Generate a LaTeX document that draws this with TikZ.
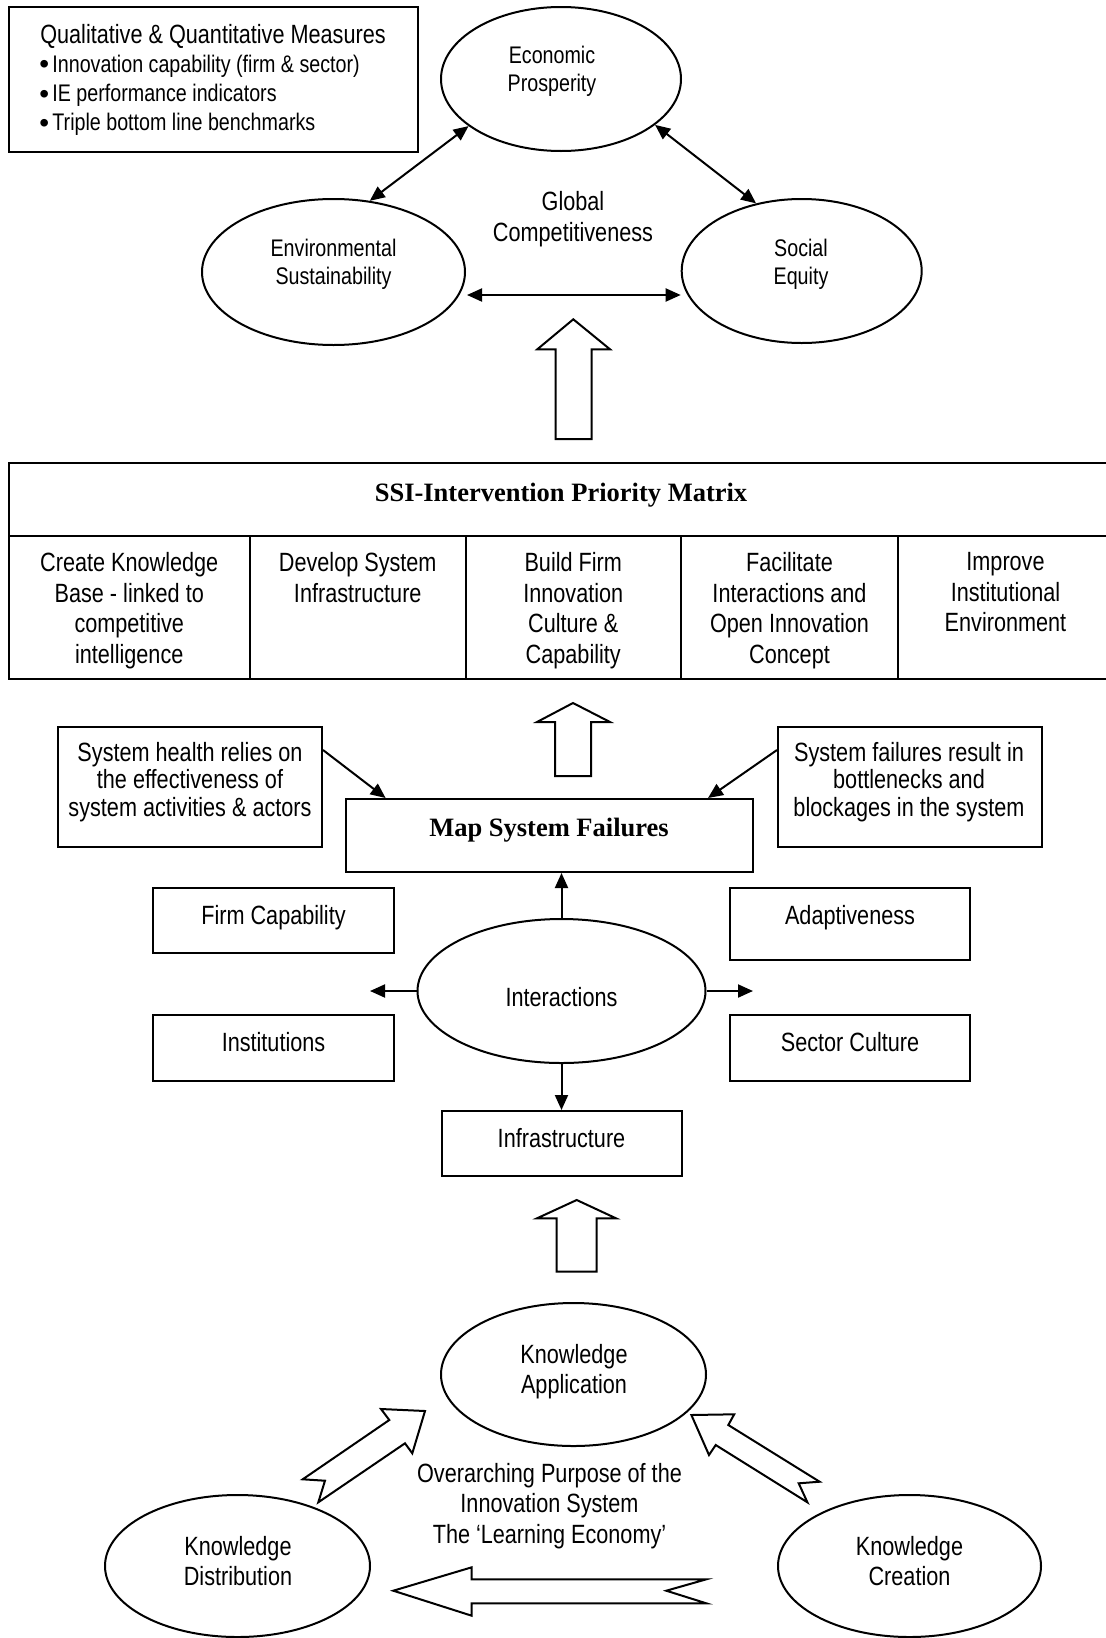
\documentclass[tikz,border=0pt]{standalone}
\usepackage{fontspec}
\setmainfont{Liberation Sans}[FakeStretch=0.82]
\newfontfamily\titlefont{Liberation Serif}
\newfontfamily\plainsans{Liberation Sans}
\newcommand\listdot{{\plainsans\fontsize{14}{0}\selectfont\raisebox{-0.9pt}{•}}\hspace{1.6pt}}
\usetikzlibrary{shapes.geometric,arrows.meta,calc,fit}

\tikzset{
  frame/.style={draw, line width=1pt, rectangle, inner sep=0pt},
  oval/.style={draw, line width=1pt, ellipse, inner sep=0pt},
  lbl/.style={inner sep=0pt, align=center, font=\fontsize{13.2}{14.7}\selectfont},
  lblsmall/.style={inner sep=0pt, align=center, font=\fontsize{12}{14.2}\selectfont},
  heading/.style={inner sep=0pt, font=\titlefont\bfseries\fontsize{13.25}{15}\selectfont},
  conn/.style={line width=1pt, ->},
  biconn/.style={line width=1pt, <->},
  blockarrow/.style={draw, line width=1pt, fill=white, line join=miter},
}

\begin{document}
\begin{tikzpicture}[x=0.5pt, y=-0.5pt, >={Triangle[length=7.5pt,width=6.5pt]}]
\useasboundingbox (0,0) rectangle (1106,1638);
\clip (0,0) rectangle (1106,1638);

% ---------- measures panel ----------
\node[frame, fit={(9,7)(418,152)}] (measures) {};
\node[lbl] (measures-title) at (213,36.5) {Qualitative \& Quantitative Measures};
\node[lbl, align=left, anchor=west, font=\fontsize{12}{14.6}\selectfont] (measures-list) at (39,95)
  {\listdot Innovation capability (firm \& sector)\\
   \listdot IE performance indicators\\
   \listdot Triple bottom line benchmarks};

% ---------- triple bottom line ----------
\node[oval, minimum width=120pt, minimum height=72pt] (econ) at (561,79) {};
\node[lblsmall] (econ-t) at (552,71) {Economic\\Prosperity};
\node[oval, minimum width=131.5pt, minimum height=73pt] (env) at (333.5,272) {};
\node[lblsmall] (env-t) at (333.5,264.5) {Environmental\\Sustainability};
\node[oval, minimum width=120pt, minimum height=72pt] (social) at (801.7,271) {};
\node[lblsmall] (social-t) at (801,264.5) {Social\\Equity};
\node[lbl, font=\fontsize{13.2}{15.5}\selectfont] (global) at (573,219.5) {Global\\Competitiveness};

\draw[biconn] (env.63) -- (econ.207);
\draw[biconn] (econ.334) -- (social.124);
\draw[biconn] ($(env.east)+(1,23)$) -- ($(social.west)+(0,24)$);

% block arrow: matrix -> outcomes
\draw[blockarrow] (573.3,319.3) -- (610,349.3) -- (591.7,349.3) -- (591.7,439)
  -- (555.7,439) -- (555.7,349.3) -- (537.3,349.3) -- cycle;

% ---------- intervention priority matrix ----------
\node[frame, fit={(8.5,463)(1113,679)}] (ssi) {};
\draw[line width=1pt] (8.5,536) -- (1113,536);
\foreach \xx in {250,465.5,681,898} \draw[line width=1pt] (\xx,536) -- (\xx,679);
\node[heading] (ssi-title) at (561,495) {SSI-Intervention Priority Matrix};
\begin{scope}[every node/.style={lbl, anchor=north, font=\fontsize{13.2}{15.3}\selectfont}]
  \node (col1) at (129.25,552) {Create Knowledge\\Base - linked to\\competitive\\intelligence};
  \node (col2) at (357.75,552) {Develop System\\Infrastructure};
  \node (col3) at (573.25,552) {Build Firm\\Innovation\\Culture \&\\Capability};
  \node (col4) at (789.5,552) {Facilitate\\Interactions and\\Open Innovation\\Concept};
  \node (col5) at (1005.5,552) {Improve\\Institutional\\Environment};
\end{scope}

% block arrow: failures -> matrix
\draw[blockarrow] (573,703) -- (610,722) -- (591,722) -- (591,776)
  -- (555,776) -- (555,722) -- (537,722) -- cycle;

% ---------- system failures ----------
\node[frame, fit={(58,727)(322,847)}] (lnote) {};
\node[lbl, font=\fontsize{13.2}{13.75}\selectfont] (lnote-t) at (190,782)
  {System health relies on\\the effectiveness of\\system activities \& actors};
\node[frame, fit={(778,727)(1042,847)}] (rnote) {};
\node[lbl, font=\fontsize{13.2}{13.75}\selectfont] (rnote-t) at (909,782)
  {System failures result in\\bottlenecks and\\blockages in the system};
\node[frame, fit={(345.6,799)(753,872)}] (map) {};
\node[heading] (map-t) at (549,830) {Map System Failures};

\draw[conn] ($(lnote.north east)+(0,24)$) -- ($(map.north west)+(41,0)$);
\draw[conn] ($(rnote.north west)+(0,24)$) -- ($(map.north east)+(-46,0)$);

\node[frame, fit={(153,888)(394,953)}] (firm) {};
\node[lbl] (firm-t) at (273.5,918) {Firm Capability};
\node[frame, fit={(730,888)(970,960)}] (adapt) {};
\node[lbl] (adapt-t) at (850,918) {Adaptiveness};
\node[frame, fit={(153,1015)(394,1081)}] (inst) {};
\node[lbl] (inst-t) at (273.5,1042) {Institutions};
\node[frame, fit={(730,1015)(970,1081)}] (culture) {};
\node[lbl] (culture-t) at (850,1042) {Sector Culture};
\node[frame, fit={(441.6,1111)(681.5,1176)}] (infra) {};
\node[lbl] (infra-t) at (561.5,1138) {Infrastructure};

\node[oval, minimum width=144pt, minimum height=72pt] (inter) at (561.5,991) {};
\node[lbl] (inter-t) at (561.5,997) {Interactions};
\coordinate (inter-l) at (370,991);
\coordinate (inter-r) at (753,991);

\draw[conn] (inter.north) -- (inter.north |- map.south);
\draw[conn] (inter.south) -- (inter.south |- infra.north);
\draw[conn] (inter.west) -- (inter-l);
\draw[conn] (inter.east) -- (inter-r);

% block arrow: learning economy -> system
\draw[blockarrow] (576.7,1200) -- (616,1218.3) -- (596.7,1218.3) -- (596.7,1271.7)
  -- (556.7,1271.7) -- (556.7,1218.3) -- (537,1218.3) -- cycle;

% ---------- learning economy ----------
\node[oval, minimum width=132.5pt, minimum height=71.5pt] (kapp) at (573.5,1374.5) {};
\node[lbl] (kapp-t) at (574,1371.5) {Knowledge\\Application};
\node[oval, minimum width=132.5pt, minimum height=71pt] (kdist) at (237.5,1566) {};
\node[lbl] (kdist-t) at (238,1561) {Knowledge\\Distribution};
\node[oval, minimum width=131.5pt, minimum height=71pt] (kcre) at (909.5,1566) {};
\node[lbl] (kcre-t) at (909.5,1561) {Knowledge\\Creation};
\node[lbl, font=\fontsize{13.2}{15.4}\selectfont] (purpose) at (549.5,1506)
  {Overarching Purpose of the\\Innovation System\\The ‘Learning Economy’};

% distribution -> application
\draw[blockarrow] (302.7,1479.3) -- (389.3,1420) -- (381,1409) -- (425,1411)
  -- (412.3,1453.3) -- (405,1443.3) -- (318.3,1502.3) -- (325,1480.7) -- cycle;
% creation -> application
\draw[blockarrow] (819.6,1481.7) -- (728.3,1425) -- (734.2,1414.3) -- (691.4,1415)
  -- (709,1455) -- (715.7,1445) -- (807.4,1502.3) -- (798.7,1483.3) -- cycle;
% creation -> distribution
\draw[blockarrow] (706.3,1579.3) -- (471.7,1579.3) -- (471.7,1567.3) -- (393.3,1590.7)
  -- (471.7,1615.7) -- (471.7,1603.3) -- (706.3,1603.3) -- (666.3,1590.7) -- cycle;

\end{tikzpicture}
\end{document}
